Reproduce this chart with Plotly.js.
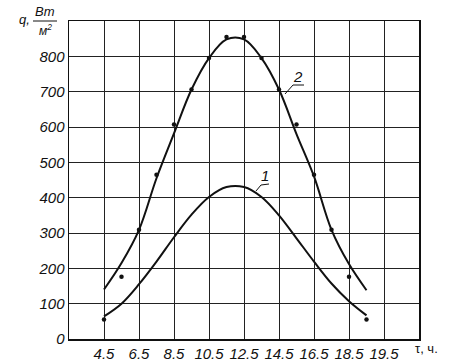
<!DOCTYPE html>
<html>
<head>
<meta charset="utf-8">
<script src="https://cdn.plot.ly/plotly-3.0.1.min.js"></script>
<style>html,body{margin:0;padding:0;background:#fff;}#chart{width:463px;height:361px;}</style>
</head>
<body>
<div id="chart"></div>
<script>
// Measured points (hours, q in W/m2)
const hours = [4.5,5.5,6.5,7.5,8.5,9.5,10.5,11.5,12.5,13.5,14.5,15.5,16.5,17.5,18.5,19.5];
const measured = [55,176,309,465,607,706,795,855,855,795,706,607,465,309,176,55];

// Curve 2
const curve2X = [4.5,5.5,6.5,7.5,8.5,9.5,10.5,11.5,12.5,13.5,14.5,15.5,16.5,17.5,18.5,19.5];
const curve2Y = [140,215,309,455,582,706,795,848,848,795,706,580,460,309,212,138];

// Curve 1
const curve1X = [4.5,5.5,6.5,7.5,8.5,9.5,10.5,11.5,12.5,13.5,14.5,15.5,16.5,17.5,18.5,19.5];
const curve1Y = [64,100,155,219,288,352,402,430,430,402,350,285,219,157,107,67];

// Axis ticks
const xTickVals = [4.5,6.5,8.5,10.5,12.5,14.5,16.5,18.5,20.5];
const xTickText = ['4.5','6.5','8.5','10.5','12.5','14.5','16.5','18.5','19.5'];
const yTickVals = [0,100,200,300,400,500,600,700,800];
const yTickText = ['0','100','200','300','400','500','600','700','800'];

// plot-area geometry in pixels
const L = 69, R = 419, T = 21, B = 339, W = 463, H = 361;
const px = x => (x - L) / (R - L);
const py = y => (B - y) / (B - T);

const FAM = 'Liberation Sans, Arial, sans-serif';
const tickFont = {family: FAM, size: 15, color: '#111', style: 'italic'};

function label(x, y, text, size, italic) {
  return {xref: 'paper', yref: 'paper', x: px(x), y: py(y), xanchor: 'center', yanchor: 'middle',
          text: text, showarrow: false,
          font: {family: FAM, size: size, color: '#111', style: italic ? 'italic' : 'normal'}};
}

const traces = [
  {x: curve2X, y: curve2Y, mode: 'lines', line: {color: '#111', width: 2, shape: 'spline', smoothing: 1}, hoverinfo: 'skip'},
  {x: curve1X, y: curve1Y, mode: 'lines', line: {color: '#111', width: 2, shape: 'spline', smoothing: 1}, hoverinfo: 'skip'},
  {x: hours, y: measured, mode: 'markers', marker: {color: '#111', size: 4.5}, hoverinfo: 'skip'}
];

const layout = {
  width: W, height: H,
  margin: {l: L, r: W - R, t: T, b: H - B, pad: 0},
  paper_bgcolor: '#fff', plot_bgcolor: '#fff',
  showlegend: false,
  xaxis: {
    range: [2.5, 22.5], tickmode: 'array', tickvals: xTickVals, ticktext: xTickText,
    showgrid: true, gridcolor: '#222', gridwidth: 1, zeroline: false,
    showline: true, linecolor: '#111', linewidth: 1.5, mirror: true,
    ticks: '', tickfont: tickFont, fixedrange: true
  },
  yaxis: {
    range: [0, 900], tickmode: 'array', tickvals: yTickVals, ticktext: yTickText,
    showgrid: true, gridcolor: '#222', gridwidth: 1, zeroline: false,
    showline: true, linecolor: '#111', linewidth: 1.5, mirror: true,
    ticks: '', tickfont: tickFont, fixedrange: true
  },
  annotations: [
    label(24, 19, 'q,', 13, true),
    label(45, 12, 'Вт', 13, true),
    label(45, 30, 'м<sup>2</sup>', 12, true),
    label(426, 348, 'τ, ч.', 13, false),
    label(265, 175, '1', 15, true),
    label(298, 77, '2', 15, true)
  ],
  shapes: [
    {type: 'line', xref: 'paper', yref: 'paper', x0: px(33), x1: px(57), y0: py(21), y1: py(21), line: {color: '#111', width: 1}},
    {type: 'path', xref: 'paper', yref: 'paper',
     path: 'M' + px(256) + ',' + py(191) + ' L' + px(261) + ',' + py(185) + ' L' + px(269) + ',' + py(184),
     line: {color: '#111', width: 1}},
    {type: 'path', xref: 'paper', yref: 'paper',
     path: 'M' + px(285) + ',' + py(94) + ' L' + px(293) + ',' + py(85) + ' L' + px(304) + ',' + py(85),
     line: {color: '#111', width: 1}}
  ]
};

Plotly.newPlot('chart', traces, layout, {staticPlot: true, displayModeBar: false});
</script>
</body>
</html>
